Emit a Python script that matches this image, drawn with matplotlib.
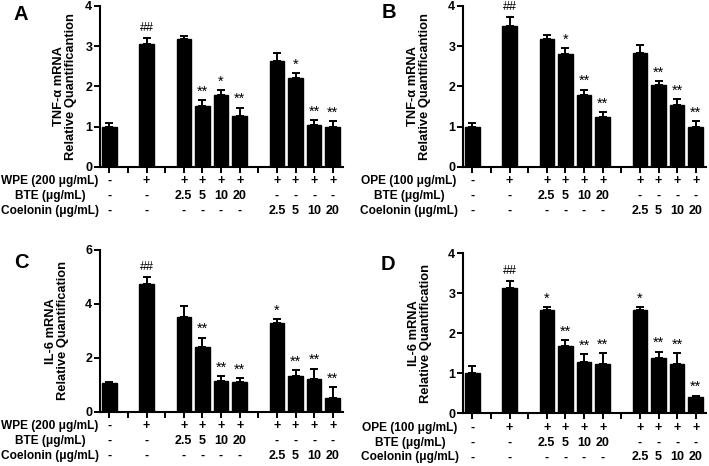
import matplotlib
matplotlib.use("Agg")
import matplotlib.pyplot as plt
import numpy as np

plt.rcParams['font.family'] = ['Liberation Sans', 'DejaVu Sans']

# ---------------- data ----------------
slots = [0, 2, 4, 5, 6, 7, 9, 10, 11, 12]
stim_row = ['-', '+', '+', '+', '+', '+', '+', '+', '+', '+']
bte_row = ['-', '-', '2.5', '5', '10', '20', '-', '-', '-', '-']
coel_row = ['-', '-', '-', '-', '-', '-', '2.5', '5', '10', '20']

a_vals = [1.0, 3.05, 3.18, 1.52, 1.78, 1.25, 2.63, 2.22, 1.04, 0.98]
a_errs = [0.08, 0.15, 0.08, 0.14, 0.13, 0.22, 0.20, 0.10, 0.13, 0.15]
a_sig = ['', '##', '', '**', '*', '**', '', '*', '**', '**']

b_vals = [1.0, 3.50, 3.18, 2.80, 1.78, 1.24, 2.84, 2.03, 1.53, 0.98]
b_errs = [0.08, 0.23, 0.10, 0.15, 0.14, 0.11, 0.20, 0.10, 0.15, 0.15]
b_sig = ['', '##', '', '*', '**', '**', '', '**', '**', '**']

c_vals = [1.05, 4.75, 3.50, 2.40, 1.13, 1.10, 3.28, 1.32, 1.20, 0.52]
c_errs = [0.07, 0.25, 0.43, 0.35, 0.18, 0.14, 0.15, 0.22, 0.40, 0.38]
c_sig = ['', '##', '', '**', '**', '**', '*', '**', '**', '**']

d_vals = [1.0, 3.12, 2.58, 1.68, 1.28, 1.24, 2.58, 1.39, 1.24, 0.40]
d_errs = [0.18, 0.18, 0.07, 0.14, 0.19, 0.26, 0.07, 0.15, 0.26, 0.04]
d_sig = ['', '##', '*', '**', '**', '**', '*', '**', '**', '**']

panels = [
    dict(letter='A', vals=a_vals, errs=a_errs, sig=a_sig, ymax=4, yticks=[0, 1, 2, 3, 4],
         ylabel='TNF-α mRNA\nRelative Quantificantion', stim='WPE (200 μg/mL)',
         box=(100, 166.7, 6), lab_x=65, letter_xy=(21, 14), rowlab_x=50),
    dict(letter='B', vals=b_vals, errs=b_errs, sig=b_sig, ymax=4, yticks=[0, 1, 2, 3, 4],
         ylabel='TNF-α mRNA\nRelative Quantificantion', stim='OPE (100 μg/mL)',
         box=(463, 166.7, 6), lab_x=419, letter_xy=(389, 13), rowlab_x=409),
    dict(letter='C', vals=c_vals, errs=c_errs, sig=c_sig, ymax=6, yticks=[0, 2, 4, 6],
         ylabel='IL-6 mRNA\nRelative Quantification', stim='WPE (200 μg/mL)',
         box=(100, 411.7, 250), lab_x=57, letter_xy=(21, 262), rowlab_x=50),
    dict(letter='D', vals=d_vals, errs=d_errs, sig=d_sig, ymax=4, yticks=[0, 1, 2, 3, 4],
         ylabel='IL-6 mRNA\nRelative Quantification', stim='OPE (100 μg/mL)',
         box=(463, 413.3, 253), lab_x=420, letter_xy=(388, 264), rowlab_x=410),
]

W, H = 709, 466
fig = plt.figure(figsize=(W / 100, H / 100), dpi=100)

row_offsets = [14.5, 29.5, 44.0]  # px below zero line
axw = 243

for p in panels:
    left, zero_y, top_y = p['box']
    ax = fig.add_axes([left / W, (H - zero_y) / H, axw / W, (zero_y - top_y) / H])
    n = len(slots)
    ax.bar(slots, p['vals'], width=0.78, color='black', edgecolor='black', zorder=2)
    ax.errorbar(slots, p['vals'], yerr=[np.zeros(n), p['errs']], fmt='none',
                ecolor='black', elinewidth=1.4, capsize=3.2, capthick=1.4, zorder=3)
    for x, v, e, s in zip(slots, p['vals'], p['errs'], p['sig']):
        if s:
            fs = 9 if s.startswith('#') else 10.5
            dy = 3.0 if s.startswith('#') else 1.0
            ax.annotate(s, (x, v + e), xytext=(0, dy), textcoords='offset points',
                        ha='center', va='bottom', fontsize=fs, color='black')
    ax.set_xlim(-0.5, 12.55)
    ax.set_ylim(0, p['ymax'])
    ax.set_yticks(p['yticks'])
    ax.set_xticks(range(13))
    ax.set_xticklabels([])
    for sp in ['top', 'right']:
        ax.spines[sp].set_visible(False)
    for sp in ['left', 'bottom']:
        ax.spines[sp].set_linewidth(1.5)
    ax.tick_params(axis='both', direction='out', length=4, width=1.4)
    ax.tick_params(axis='y', labelsize=9, pad=1.5)
    for t in ax.get_yticklabels():
        t.set_fontweight('bold')
    # y label
    ax.text((p['lab_x'] - left) / axw, 0.5, p['ylabel'], transform=ax.transAxes,
            rotation=90, ha='center', va='center', fontsize=9.3, fontweight='bold',
            linespacing=1.1)
    # table rows
    for rows, off in zip([stim_row, bte_row, coel_row], row_offsets):
        for x, t in zip(slots, rows):
            ax.annotate(t, (x, 0), xycoords=('data', 'axes fraction'),
                        xytext=(0, -off * 0.72), textcoords='offset points',
                        ha='center', va='center', fontsize=9, fontweight='bold',
                        annotation_clip=False)
    for lab, off in zip([p['stim'], 'BTE (μg/mL)', 'Coelonin (μg/mL)'], row_offsets):
        fig.text(p['rowlab_x'] / W, (H - (zero_y + off)) / H, lab, ha='center', va='center',
                 fontsize=8.6, fontweight='bold')
    fig.text(p['letter_xy'][0] / W, (H - p['letter_xy'][1]) / H, p['letter'],
             ha='center', va='center', fontsize=14.5, fontweight='bold')

fig.savefig('out.png', dpi=100)
